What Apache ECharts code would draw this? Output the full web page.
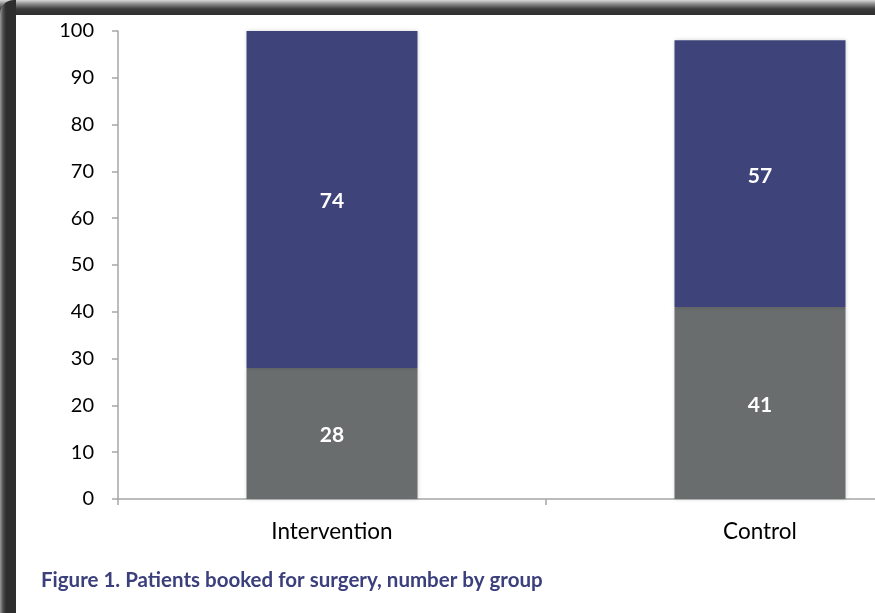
<!DOCTYPE html>
<html><head><meta charset="utf-8">
<script src="https://cdn.jsdelivr.net/npm/echarts@6/dist/echarts.min.js"></script>
<style>
html,body{margin:0;padding:0;width:875px;height:613px;overflow:hidden;background:#fff;}
#frame{position:absolute;left:0;top:0;width:875px;height:613px;
 background:linear-gradient(to bottom,#d8d8d8 0px,#8a8a8a 4px,#3a3a3a 9px,#2e2e2e 15px);}
#frameL{position:absolute;left:0;top:0;width:16px;height:613px;
 background:linear-gradient(to right,#9a9a9a 0px,#505050 3px,#2e2e2e 6px,#2e2e2e 16px);border-top-left-radius:14px;}
#paper{position:absolute;left:16px;top:15px;width:859px;height:598px;background:#fff;}
#chart{position:absolute;left:0;top:0;width:1000px;height:613px;}
</style></head>
<body>
<div id="frame"></div><div id="frameL"></div><div id="paper"></div>
<div id="chart"></div>
<script>
const categories = ['Intervention', 'Control'];
const greySeries = [28, 41];
const navySeries = [74, 57];
const yTicks = [0, 10, 20, 30, 40, 50, 60, 70, 80, 90, 100];
const caption = 'Figure 1. Patients booked for surgery, number by group';

const chart = echarts.init(document.getElementById('chart'), null, {renderer: 'canvas'});
const font = 'Lato, "Open Sans", sans-serif';
const labelStyle = {show: true, position: 'inside', color: '#ffffff', fontWeight: 'bold', fontSize: 21, fontFamily: font, offset: [0, 2]};
chart.setOption({
  backgroundColor: 'transparent',
  animation: false,
  title: {
    text: caption, left: 41, top: 570, padding: 0,
    textStyle: {color: '#3b3f7c', fontSize: 20.5, fontWeight: 'bold', fontFamily: font}
  },
  grid: {left: 118, top: 31, width: 856, height: 468, containLabel: false},
  xAxis: {
    type: 'category', data: categories,
    axisLine: {lineStyle: {color: '#a6a6a6', width: 1.5}},
    axisTick: {show: true, length: 6, lineStyle: {color: '#a6a6a6', width: 1.5}},
    axisLabel: {color: '#000', fontSize: 22.5, fontFamily: font, margin: 21}
  },
  yAxis: {
    type: 'value', min: yTicks[0], max: yTicks[yTicks.length - 1], interval: 10,
    splitLine: {show: false},
    axisLine: {show: true, lineStyle: {color: '#a6a6a6', width: 1.5}},
    axisTick: {show: true, length: 6, lineStyle: {color: '#a6a6a6', width: 1.5}},
    axisLabel: {color: '#000', fontSize: 20, fontFamily: font, margin: 24}
  },
  series: [
    {type: 'bar', stack: 'a', data: greySeries, barWidth: 171, clip: true,
     itemStyle: {color: '#6a6d6e', shadowColor: 'rgba(0,0,0,0.18)', shadowBlur: 4},
     label: labelStyle},
    {type: 'bar', stack: 'a', data: navySeries, barWidth: 171, clip: true,
     itemStyle: {color: '#3e4379', shadowColor: 'rgba(0,0,0,0.18)', shadowBlur: 4},
     label: labelStyle}
  ]
});
</script>
</body></html>
